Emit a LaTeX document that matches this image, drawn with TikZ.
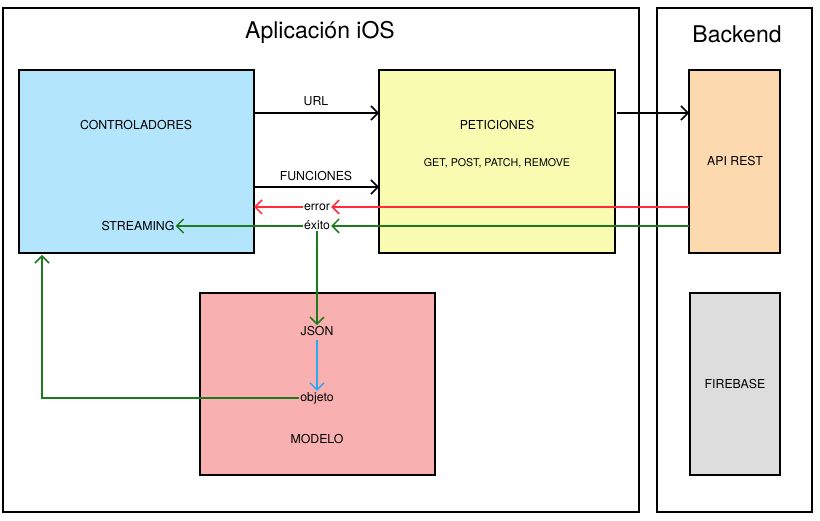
\documentclass[tikz,border=0pt]{standalone}
\usepackage{fontspec}
\setmainfont{TeX Gyre Heros}
\usetikzlibrary{arrows.meta}
\definecolor{cblue}{HTML}{B3E5FC}
\definecolor{cyellow}{HTML}{F9FCB0}
\definecolor{corange}{HTML}{FDD9B0}
\definecolor{cgray}{HTML}{DDDDDD}
\definecolor{cpink}{HTML}{F9B0B0}
\definecolor{cred}{HTML}{FF2A3A}
\definecolor{cgreen}{HTML}{1E7A1E}
\definecolor{cjson}{HTML}{2AA8F0}
\tikzset{
  frame/.style={draw=black, line width=1.6pt},
  lbl/.style={font=\fontsize{12.3}{14}\selectfont, inner sep=1pt},
  arr/.style={line width=1.5pt, -{Straight Barb[length=7pt,width=14pt,line width=1.5pt]}},
}
\begin{document}
\begin{tikzpicture}[x=1pt,y=-1pt]
\useasboundingbox (0,0) rectangle (820,521);
% frames
\draw[frame] (3,8) rectangle (639,512);
\draw[frame] (657,8) rectangle (812,512);
\node[font=\fontsize{23}{27}\selectfont] (tapp) at (320,32) {Aplicación iOS};
\node[font=\fontsize{23}{27}\selectfont] (tback) at (737,34) {Backend};
% boxes
\draw[frame, fill=cblue] (19,70) rectangle (254,253);
\draw[frame, fill=cyellow] (379,70) rectangle (615,253);
\draw[frame, fill=corange] (689,70) rectangle (780,253);
\draw[frame, fill=cgray] (690,293) rectangle (780,475);
\draw[frame, fill=cpink] (200,293) rectangle (435,475);
\coordinate (ctrlR) at (254,0);
\coordinate (petL) at (379,0);
\coordinate (petR) at (617,0);
\coordinate (apiL) at (689,0);
\coordinate (ctrlB) at (42,255);
% labels
\node[lbl] (ctrl) at (136,125) {CONTROLADORES};
\node[lbl] (pet) at (497,125) {PETICIONES};
\node[lbl, font=\fontsize{10.7}{12}\selectfont] (verbs) at (497,163) {GET, POST, PATCH, REMOVE};
\node[lbl] (api) at (735,161) {API REST};
\node[lbl] (fire) at (735,384) {FIREBASE};
\node[lbl] (modelo) at (317,439) {MODELO};
\node[lbl] (stream) at (138,226) {STREAMING};
\node[lbl] (url) at (316,101) {URL};
\node[lbl] (func) at (316,176) {FUNCIONES};
\node[lbl] (error) at (317,207) {error};
\node[lbl] (exito) at (317,225) {éxito};
\node[lbl] (json) at (317,331) {JSON};
\node[lbl] (objeto) at (317,398) {objeto};
% arrows
\draw[arr] (ctrlR |- 0,113) -- (petL |- 0,113);
\draw[arr] (ctrlR |- 0,187) -- (petL |- 0,187);
\draw[arr] (petR |- 0,113) -- (apiL |- 0,113);
\draw[arr, cred] (apiL |- 0,207) -- (error.east);
\draw[arr, cred] (error.west) -- (ctrlR |- error.west);
\draw[arr, cgreen] (apiL |- 0,226) -- (exito.east |- 0,226);
\draw[arr, cgreen] (exito.west |- 0,226) -- (stream.east |- 0,226);
\draw[arr, cgreen] (exito.south) -- (json.north);
\draw[arr, cjson] (json.south) ++(0,3) -- (objeto.north);
\draw[arr, cgreen] (objeto.west) -- (ctrlB |- objeto.west) -- (ctrlB);
\end{tikzpicture}
\end{document}
